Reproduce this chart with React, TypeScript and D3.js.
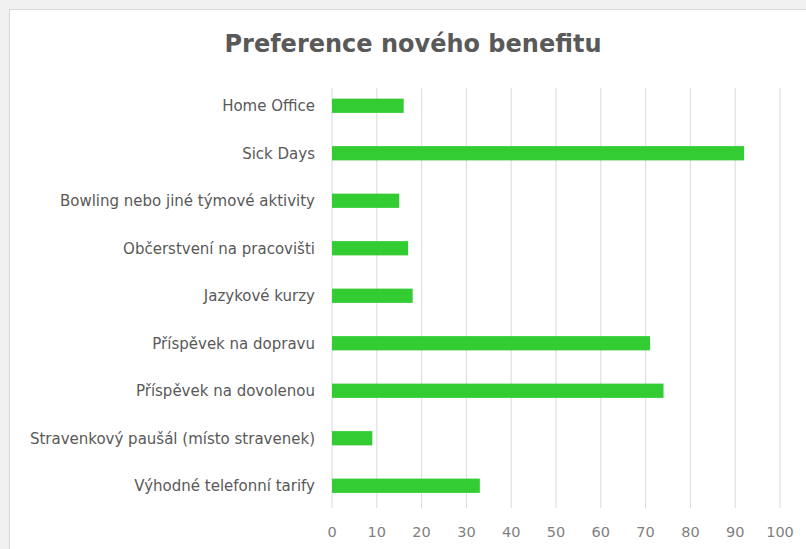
import React from "react";
import * as d3 from "d3";

const categories = [
  "Home Office",
  "Sick Days",
  "Bowling nebo jiné týmové aktivity",
  "Občerstvení na pracovišti",
  "Jazykové kurzy",
  "Příspěvek na dopravu",
  "Příspěvek na dovolenou",
  "Stravenkový paušál (místo stravenek)",
  "Výhodné telefonní tarify",
];
const values = [16, 92, 15, 17, 18, 71, 74, 9, 33];
const xTicks = [0, 10, 20, 30, 40, 50, 60, 70, 80, 90, 100];
const title = "Preference nového benefitu";

const W = 806;
const H = 549;
const FONT = "'DejaVu Sans', 'Open Sans', sans-serif";

export default function App() {
  const x = d3.scaleLinear().domain([0, 100]).range([332, 780]);
  const y = d3
    .scaleBand<string>()
    .domain(categories)
    .range([82, 509.5])
    .paddingInner(0.7)
    .paddingOuter(0.35);
  const gridTop = 88;
  const gridBottom = 508;

  return (
    <svg
      width={W}
      height={H}
      style={{ position: "absolute", left: 0, top: 0, display: "block" }}
    >
      <rect x={0} y={0} width={W} height={H} fill="#f0f0f0" />
      <rect x={9.5} y={9.5} width={W} height={H} fill="#ffffff" stroke="#d9d9d9" />
      <text
        x={413}
        y={52}
        textAnchor="middle"
        fontFamily={FONT}
        fontWeight="bold"
        fontSize={24}
        fill="#595959"
      >
        {title}
      </text>
      {xTicks.map((t) => (
        <line
          key={"g" + t}
          x1={x(t)}
          x2={x(t)}
          y1={gridTop}
          y2={gridBottom}
          stroke="#d9d9d9"
          strokeWidth={1}
        />
      ))}
      {categories.map((c, i) => (
        <rect
          key={"b" + c}
          x={x(0)}
          y={y(c)}
          width={x(values[i]) - x(0)}
          height={y.bandwidth()}
          fill="#33cc33"
        />
      ))}
      {categories.map((c) => (
        <text
          key={"l" + c}
          x={315}
          y={(y(c) as number) + y.bandwidth() / 2}
          dy="0.35em"
          textAnchor="end"
          fontFamily={FONT}
          fontSize={15}
          fill="#595959"
        >
          {c}
        </text>
      ))}
      {xTicks.map((t) => (
        <text
          key={"t" + t}
          x={x(t)}
          y={532}
          dy="0.35em"
          textAnchor="middle"
          fontFamily={FONT}
          fontSize={14.5}
          fill="#7f7f7f"
        >
          {t}
        </text>
      ))}
    </svg>
  );
}
